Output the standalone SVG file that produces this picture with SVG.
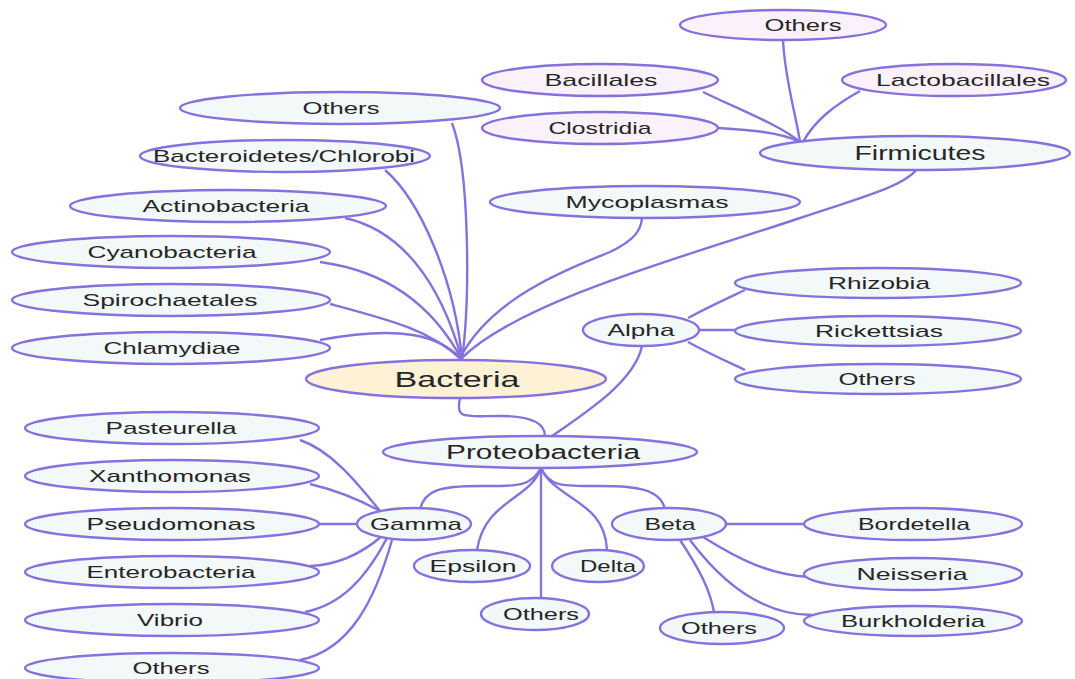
<svg xmlns="http://www.w3.org/2000/svg" width="1075" height="679" viewBox="0 0 1075 679">
<style>
.n{fill:#f3f8f8;stroke:#8672dc;stroke-width:2.4}
.p{fill:#fbf1fa;stroke:#8672dc;stroke-width:2.4}
.r{fill:#fdf1d6;stroke:#8672dc;stroke-width:2.4}
text{font-family:"Liberation Sans",Arial,sans-serif;font-size:17px;fill:#262626;text-anchor:middle;dominant-baseline:central}
.big{font-size:22px}
.mid{font-size:20px}
#edges path{fill:none;stroke:#8672dc;stroke-width:2.4}
</style>
<rect width="1075" height="679" fill="#ffffff"/>
<g id="edges">
<path d="M462,360 C470,300 470,170 452,123"/>
<path d="M462,360 C455,280 420,200 385,170"/>
<path d="M462,360 C440,280 400,230 345,218"/>
<path d="M462,360 C430,300 380,270 320,262"/>
<path d="M462,360 C430,330 390,320 330,304"/>
<path d="M462,360 C440,335 400,325 320,340"/>
<path d="M460,358 C490,300 560,272 610,252 C635,240 641,230 642,218"/>
<path d="M462,358 C520,300 700,252 800,218 C870,195 905,185 917,169"/>
<path d="M783,40 C785,80 795,110 800,142"/>
<path d="M703,92 C740,110 780,125 800,142"/>
<path d="M718,128 C750,130 780,132 800,142"/>
<path d="M860,91 C835,105 815,120 803,142"/>
<path d="M460,398 C455,420 465,416 500,416 C535,416 545,425 545,436"/>
<path d="M552,436 C590,410 635,380 642,346"/>
<path d="M688,318 C710,306 728,298 745,290"/>
<path d="M699,330 L736,330"/>
<path d="M688,342 C710,354 728,362 745,370"/>
<path d="M541,468 C530,488 515,486 480,486 C440,486 425,490 420,509"/>
<path d="M541,468 C530,500 485,500 477,550"/>
<path d="M541,468 L541,598"/>
<path d="M541,468 C555,500 605,500 607,550"/>
<path d="M541,468 C550,488 565,486 600,486 C640,486 660,490 665,509"/>
<path d="M380,511 C355,480 330,450 300,440"/>
<path d="M380,511 C360,500 335,490 310,484"/>
<path d="M357,524 L318,524"/>
<path d="M382,536 C360,555 335,565 310,566"/>
<path d="M387,538 C365,580 340,605 305,612"/>
<path d="M392,540 C375,600 350,650 300,660"/>
<path d="M726,524 L804,524"/>
<path d="M703,537 C740,560 770,575 810,577"/>
<path d="M690,540 C720,580 760,615 812,615"/>
<path d="M680,540 C700,570 710,590 714,612"/>
</g>
<g id="others-firmicutes"><ellipse class="p" cx="783" cy="25" rx="103" ry="15"/><text x="803" y="25" textLength="77" lengthAdjust="spacingAndGlyphs">Others</text></g>
<g id="bacillales"><ellipse class="p" cx="600" cy="80" rx="118" ry="16"/><text x="601" y="80" textLength="113" lengthAdjust="spacingAndGlyphs">Bacillales</text></g>
<g id="lactobacillales"><ellipse class="p" cx="954" cy="80" rx="112" ry="16"/><text x="963" y="80" textLength="174" lengthAdjust="spacingAndGlyphs">Lactobacillales</text></g>
<g id="clostridia"><ellipse class="p" cx="600" cy="128" rx="118" ry="16"/><text x="600" y="128" textLength="103" lengthAdjust="spacingAndGlyphs">Clostridia</text></g>
<g id="firmicutes"><ellipse class="n" cx="915" cy="153" rx="155" ry="17"/><text class="mid" x="920" y="153" textLength="131" lengthAdjust="spacingAndGlyphs">Firmicutes</text></g>
<g id="others-bacteria"><ellipse class="n" cx="340" cy="108" rx="160" ry="16"/><text x="341" y="108" textLength="77" lengthAdjust="spacingAndGlyphs">Others</text></g>
<g id="bacteroidetes"><ellipse class="n" cx="285" cy="156" rx="145" ry="16"/><text x="284" y="156" textLength="262" lengthAdjust="spacingAndGlyphs">Bacteroidetes/Chlorobi</text></g>
<g id="actinobacteria"><ellipse class="n" cx="228" cy="206" rx="158" ry="16"/><text x="226" y="206" textLength="167" lengthAdjust="spacingAndGlyphs">Actinobacteria</text></g>
<g id="mycoplasmas"><ellipse class="n" cx="645" cy="202" rx="155" ry="16"/><text x="647" y="202" textLength="163" lengthAdjust="spacingAndGlyphs">Mycoplasmas</text></g>
<g id="cyanobacteria"><ellipse class="n" cx="171" cy="252" rx="159" ry="16"/><text x="172" y="252" textLength="169" lengthAdjust="spacingAndGlyphs">Cyanobacteria</text></g>
<g id="spirochaetales"><ellipse class="n" cx="171" cy="300" rx="159" ry="16"/><text x="170" y="300" textLength="175" lengthAdjust="spacingAndGlyphs">Spirochaetales</text></g>
<g id="chlamydiae"><ellipse class="n" cx="171" cy="348" rx="159" ry="16"/><text x="172" y="348" textLength="137" lengthAdjust="spacingAndGlyphs">Chlamydiae</text></g>
<g id="rhizobia"><ellipse class="n" cx="878" cy="283" rx="143" ry="15"/><text x="879" y="283" textLength="102" lengthAdjust="spacingAndGlyphs">Rhizobia</text></g>
<g id="alpha"><ellipse class="n" cx="641" cy="330" rx="58" ry="16"/><text x="641" y="330" textLength="67" lengthAdjust="spacingAndGlyphs">Alpha</text></g>
<g id="rickettsias"><ellipse class="n" cx="878" cy="331" rx="143" ry="15"/><text x="879" y="331" textLength="128" lengthAdjust="spacingAndGlyphs">Rickettsias</text></g>
<g id="others-alpha"><ellipse class="n" cx="878" cy="379" rx="143" ry="15"/><text x="877" y="379" textLength="77" lengthAdjust="spacingAndGlyphs">Others</text></g>
<g id="bacteria"><ellipse class="r" cx="456" cy="379" rx="150" ry="19"/><text class="big" x="457" y="379" textLength="125" lengthAdjust="spacingAndGlyphs">Bacteria</text></g>
<g id="proteobacteria"><ellipse class="n" cx="540" cy="452" rx="157" ry="16"/><text class="mid" x="543" y="452" textLength="194" lengthAdjust="spacingAndGlyphs">Proteobacteria</text></g>
<g id="pasteurella"><ellipse class="n" cx="172" cy="428" rx="147" ry="16"/><text x="171" y="428" textLength="131" lengthAdjust="spacingAndGlyphs">Pasteurella</text></g>
<g id="xanthomonas"><ellipse class="n" cx="172" cy="476" rx="147" ry="16"/><text x="170" y="476" textLength="162" lengthAdjust="spacingAndGlyphs">Xanthomonas</text></g>
<g id="pseudomonas"><ellipse class="n" cx="172" cy="524" rx="147" ry="16"/><text x="171" y="524" textLength="169" lengthAdjust="spacingAndGlyphs">Pseudomonas</text></g>
<g id="enterobacteria"><ellipse class="n" cx="172" cy="572" rx="147" ry="16"/><text x="171" y="572" textLength="169" lengthAdjust="spacingAndGlyphs">Enterobacteria</text></g>
<g id="vibrio"><ellipse class="n" cx="172" cy="620" rx="147" ry="16"/><text x="170" y="620" textLength="66" lengthAdjust="spacingAndGlyphs">Vibrio</text></g>
<g id="others-gamma"><ellipse class="n" cx="172" cy="668" rx="147" ry="15"/><text x="171" y="668" textLength="77" lengthAdjust="spacingAndGlyphs">Others</text></g>
<g id="gamma"><ellipse class="n" cx="414" cy="524" rx="57" ry="16"/><text x="416" y="524" textLength="92" lengthAdjust="spacingAndGlyphs">Gamma</text></g>
<g id="epsilon"><ellipse class="n" cx="472" cy="566" rx="58" ry="16"/><text x="473" y="566" textLength="87" lengthAdjust="spacingAndGlyphs">Epsilon</text></g>
<g id="delta"><ellipse class="n" cx="598" cy="566" rx="46" ry="16"/><text x="608" y="566" textLength="56" lengthAdjust="spacingAndGlyphs">Delta</text></g>
<g id="others-proteo"><ellipse class="n" cx="535" cy="614" rx="54" ry="16"/><text x="541" y="614" textLength="76" lengthAdjust="spacingAndGlyphs">Others</text></g>
<g id="beta"><ellipse class="n" cx="669" cy="524" rx="57" ry="16"/><text x="670" y="524" textLength="51" lengthAdjust="spacingAndGlyphs">Beta</text></g>
<g id="bordetella"><ellipse class="n" cx="913" cy="524" rx="109" ry="16"/><text x="914" y="524" textLength="112" lengthAdjust="spacingAndGlyphs">Bordetella</text></g>
<g id="neisseria"><ellipse class="n" cx="913" cy="574" rx="109" ry="16"/><text x="912" y="574" textLength="111" lengthAdjust="spacingAndGlyphs">Neisseria</text></g>
<g id="burkholderia"><ellipse class="n" cx="913" cy="621" rx="109" ry="15"/><text x="913" y="621" textLength="144" lengthAdjust="spacingAndGlyphs">Burkholderia</text></g>
<g id="others-beta"><ellipse class="n" cx="722" cy="628" rx="62" ry="16"/><text x="719" y="628" textLength="76" lengthAdjust="spacingAndGlyphs">Others</text></g>
</svg>
